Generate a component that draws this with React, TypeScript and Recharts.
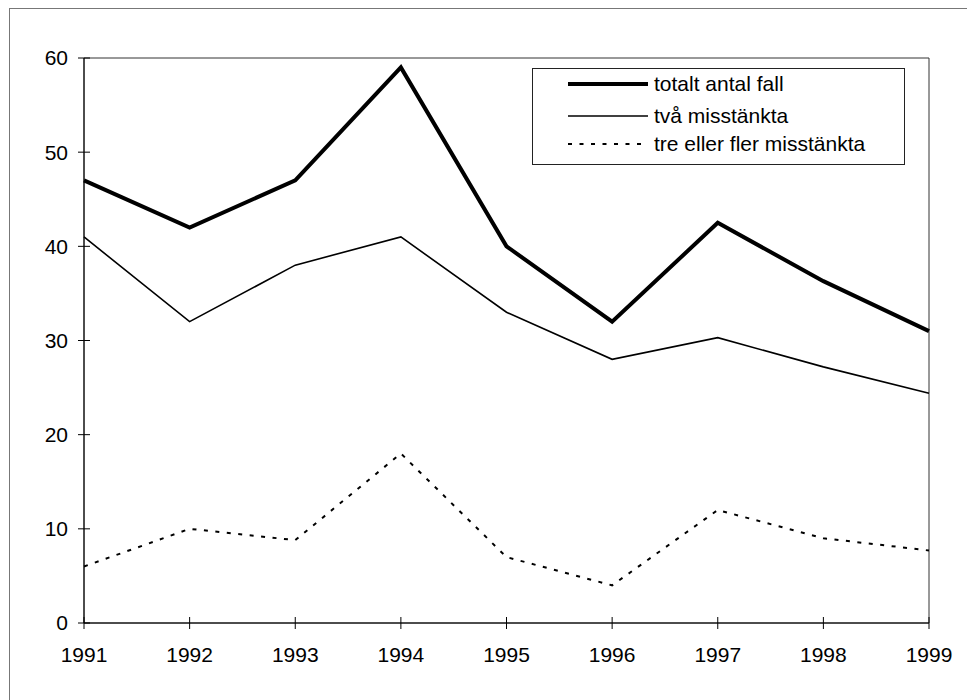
import React from "react";
import { LineChart, Line, XAxis, YAxis, ReferenceArea, Legend } from "recharts";

const years = [1991, 1992, 1993, 1994, 1995, 1996, 1997, 1998, 1999];
const totaltAntalFall = [47, 42, 47, 59, 40, 32, 42.5, 36.3, 31];
const tvaMisstankta = [41, 32, 38, 41, 33, 28, 30.3, 27.2, 24.4];
const treEllerFler = [6, 10, 8.8, 18, 7, 4, 12, 9, 7.7];
const yTicks = [0, 10, 20, 30, 40, 50, 60];
const seriesKeys = ["total", "two", "three"];
const seriesNames = ["totalt antal fall", "två misstänkta", "tre eller fler misstänkta"];

const data = years.map((year, i) => ({
  year,
  total: totaltAntalFall[i],
  two: tvaMisstankta[i],
  three: treEllerFler[i],
}));

const FONT = "'Liberation Sans', Arial, Helvetica, sans-serif";
const FS = 21;
const TICK = 6;
const X_MARGIN = 18;
const Y_MARGIN = 10;

const styleByKey: Record<string, { w: number; dash?: string }> = {
  total: { w: 4 },
  two: { w: 1.6 },
  three: { w: 2, dash: "4 7.5" },
};

const XTick = (props: any) => {
  const { x, y, payload } = props;
  const axisY = y - TICK - X_MARGIN;
  return (
    <g>
      <line x1={x} x2={x} y1={axisY - TICK} y2={axisY + TICK} stroke="#000" strokeWidth={1} />
      <text x={x} y={y} dy="0.71em" textAnchor="middle" fontFamily={FONT} fontSize={FS} fill="#000">
        {payload.value}
      </text>
    </g>
  );
};

const YTick = (props: any) => {
  const { x, y, payload } = props;
  const axisX = x + TICK + Y_MARGIN;
  return (
    <g>
      <line x1={axisX - TICK} x2={axisX + TICK} y1={y} y2={y} stroke="#000" strokeWidth={1} />
      <text x={x} y={y} dy="0.355em" textAnchor="end" fontFamily={FONT} fontSize={FS} fill="#000">
        {payload.value}
      </text>
    </g>
  );
};

const LegendBox = (props: any) => {
  const payload = [...(props.payload || [])].sort(
    (a: any, b: any) => seriesKeys.indexOf(a.dataKey) - seriesKeys.indexOf(b.dataKey)
  );
  const rowsY = [15, 47, 75];
  return (
    <div
      style={{
        width: 373,
        height: 97,
        border: "1px solid #222",
        boxSizing: "border-box",
        background: "#fff",
      }}
    >
      <svg width={371} height={95} style={{ display: "block" }}>
        {payload.map((entry: any, i: number) => {
          const st = styleByKey[entry.dataKey] || { w: 1 };
          const cy = rowsY[i] ?? 15 + i * 30;
          return (
            <g key={i}>
              <line
                x1={35}
                x2={115}
                y1={cy}
                y2={cy}
                stroke="#000"
                strokeWidth={st.w}
                strokeDasharray={st.dash}
              />
              <text x={121} y={cy} dy="0.355em" fontFamily={FONT} fontSize={FS} fill="#000">
                {entry.value}
              </text>
            </g>
          );
        })}
      </svg>
    </div>
  );
};

export default function App() {
  return (
    <div
      style={{
        marginLeft: 1,
        width: 966,
        height: 692,
        borderLeft: "1px solid #777",
        borderTop: "1px solid #777",
        boxSizing: "border-box",
        fontFamily: FONT,
        background: "#fff",
      }}
    >
      <LineChart
        width={965}
        height={691}
        data={data}
        margin={{ top: 49, right: 46, bottom: 37, left: 14 }}
      >
        <XAxis
          dataKey="year"
          type="number"
          domain={[1991, 1999]}
          ticks={years}
          interval={0}
          allowDecimals={false}
          axisLine={{ stroke: "#000", strokeWidth: 1 }}
          tickLine={false}
          tickSize={TICK}
          tickMargin={X_MARGIN}
          height={40}
          tick={<XTick />}
        />
        <YAxis
          type="number"
          domain={[0, 60]}
          ticks={yTicks}
          interval={0}
          axisLine={{ stroke: "#000", strokeWidth: 1 }}
          tickLine={false}
          tickSize={TICK}
          tickMargin={Y_MARGIN}
          width={60}
          tick={<YTick />}
        />
        <ReferenceArea
          x1={1991}
          x2={1999}
          y1={0}
          y2={60}
          fill="none"
          fillOpacity={0}
          stroke="#333"
          strokeWidth={1}
          isFront={false}
        />
        <Legend
          layout="vertical"
          align="center"
          verticalAlign="middle"
          wrapperStyle={{ left: 522, top: 59, width: 373, height: 97 }}
          content={<LegendBox />}
        />
        <Line
          dataKey="total"
          name={seriesNames[0]}
          stroke="#000"
          strokeWidth={4}
          dot={false}
          activeDot={false}
          isAnimationActive={false}
          strokeLinejoin="miter"
        />
        <Line
          dataKey="two"
          name={seriesNames[1]}
          stroke="#000"
          strokeWidth={1.6}
          dot={false}
          activeDot={false}
          isAnimationActive={false}
        />
        <Line
          dataKey="three"
          name={seriesNames[2]}
          stroke="#000"
          strokeWidth={2}
          strokeDasharray="4 7.5"
          dot={false}
          activeDot={false}
          isAnimationActive={false}
        />
      </LineChart>
    </div>
  );
}
